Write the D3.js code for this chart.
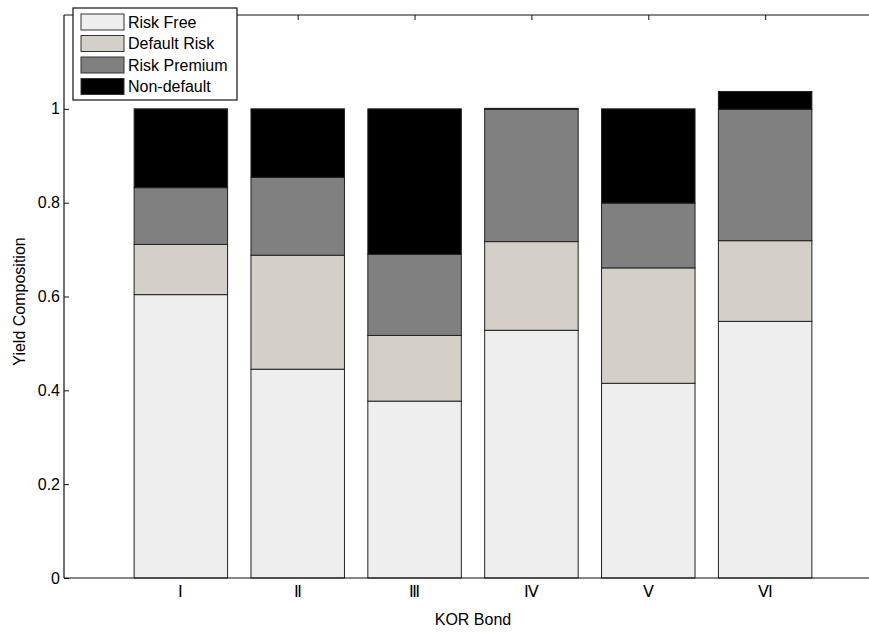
<!DOCTYPE html>
<html>
<head>
<meta charset="utf-8">
<script src="https://cdn.jsdelivr.net/npm/d3@7"></script>
<style>
  body { margin: 0; background: #fff; }
  text { font-family: Arial, "Liberation Sans", sans-serif; }
</style>
</head>
<body>
<div id="chart"></div>
<script>
var categories = ["Ⅰ", "Ⅱ", "Ⅲ", "Ⅳ", "Ⅴ", "Ⅵ"];
var series = ["Risk Free", "Default Risk", "Risk Premium", "Non-default"];
var riskFree    = [0.604, 0.445, 0.377, 0.528, 0.415, 0.547];
var defaultRisk = [0.107, 0.243, 0.140, 0.189, 0.246, 0.172];
var riskPremium = [0.121, 0.166, 0.173, 0.282, 0.138, 0.280];
var nonDefault  = [0.168, 0.146, 0.310, 0.002, 0.201, 0.038];
var yTicks = [0, 0.2, 0.4, 0.6, 0.8, 1];

var colors = ["#eeeeee", "#d4d0c8", "#808080", "#000000"];

var width = 869, height = 635;
// plot box (window.top is reserved, so use other names)
var pLeft = 64, pTop = 15, pBottom = 578, pRight = 882;
var fs = "16px";

var svg = d3.select("#chart").append("svg")
  .attr("width", width)
  .attr("height", height);

var rows = categories.map(function(c, i) {
  return { cat: c, "Risk Free": riskFree[i], "Default Risk": defaultRisk[i],
           "Risk Premium": riskPremium[i], "Non-default": nonDefault[i] };
});

var stacked = d3.stack().keys(series)(rows);

var x = d3.scaleLinear().domain([0, 7]).range([pLeft, pRight]);
var y = d3.scaleLinear().domain([0, 1.2]).range([pBottom, pTop]);
var step = x(1) - x(0);
var barW = step * 0.8;

// bars
stacked.forEach(function(layer, k) {
  svg.append("g").selectAll("rect")
    .data(layer)
    .enter().append("rect")
      .attr("x", function(d, i) { return x(i + 1) - barW / 2; })
      .attr("y", function(d) { return y(d[1]); })
      .attr("width", barW)
      .attr("height", function(d) { return y(d[0]) - y(d[1]); })
      .attr("fill", colors[k])
      .attr("stroke", "#222")
      .attr("stroke-width", 1);
});

// axes box
var axisColor = "#111";
svg.append("line").attr("x1", pLeft).attr("x2", pRight).attr("y1", pBottom).attr("y2", pBottom)
  .attr("stroke", axisColor).attr("stroke-width", 1.2);
svg.append("line").attr("x1", pLeft).attr("x2", pRight).attr("y1", pTop).attr("y2", pTop)
  .attr("stroke", axisColor).attr("stroke-width", 1.2);
svg.append("line").attr("x1", pLeft).attr("x2", pLeft).attr("y1", pTop).attr("y2", pBottom)
  .attr("stroke", axisColor).attr("stroke-width", 1.2);

// y ticks (inward)
var yAxis = svg.append("g").attr("transform", "translate(" + pLeft + ",0)")
  .call(d3.axisRight(y).tickValues(yTicks).tickSize(5).tickFormat(""));
yAxis.select(".domain").remove();
yAxis.selectAll("line").attr("stroke", axisColor);
svg.selectAll(".ylab").data(yTicks).enter().append("text")
  .attr("x", pLeft - 4)
  .attr("y", function(d) { return y(d); })
  .attr("dy", "0.35em")
  .attr("text-anchor", "end")
  .style("font-size", fs)
  .text(function(d) { return d3.format("")(d); });

// x ticks on top (inward)
var xTop = svg.append("g").attr("transform", "translate(0," + pTop + ")")
  .call(d3.axisBottom(x).tickValues(d3.range(1, 7)).tickSize(5).tickFormat(""));
xTop.select(".domain").remove();
xTop.selectAll("line").attr("stroke", axisColor);

svg.selectAll(".xlab").data(categories).enter().append("text")
  .attr("x", function(d, i) { return x(i + 1); })
  .attr("y", pBottom + 19)
  .attr("text-anchor", "middle")
  .style("font-size", fs)
  .text(function(d) { return d; });

// axis titles
svg.append("text")
  .attr("x", (pLeft + pRight) / 2).attr("y", 625)
  .attr("text-anchor", "middle")
  .style("font-size", fs)
  .text("KOR Bond");

svg.append("text")
  .attr("transform", "translate(25," + ((pTop + pBottom) / 2 + 5) + ") rotate(-90)")
  .attr("text-anchor", "middle")
  .style("font-size", fs)
  .text("Yield Composition");

// legend
var lg = svg.append("g").attr("transform", "translate(73,8)");
lg.append("rect").attr("width", 164).attr("height", 92)
  .attr("fill", "#fff").attr("stroke", "#111").attr("stroke-width", 1.2);
series.forEach(function(s, k) {
  var ly = 6 + k * 21.5;
  lg.append("rect").attr("x", 8).attr("y", ly).attr("width", 43).attr("height", 16)
    .attr("fill", colors[k]).attr("stroke", "#333");
  lg.append("text").attr("x", 55).attr("y", ly + 8).attr("dy", "0.35em")
    .style("font-size", fs).text(s);
});
</script>
</body>
</html>
